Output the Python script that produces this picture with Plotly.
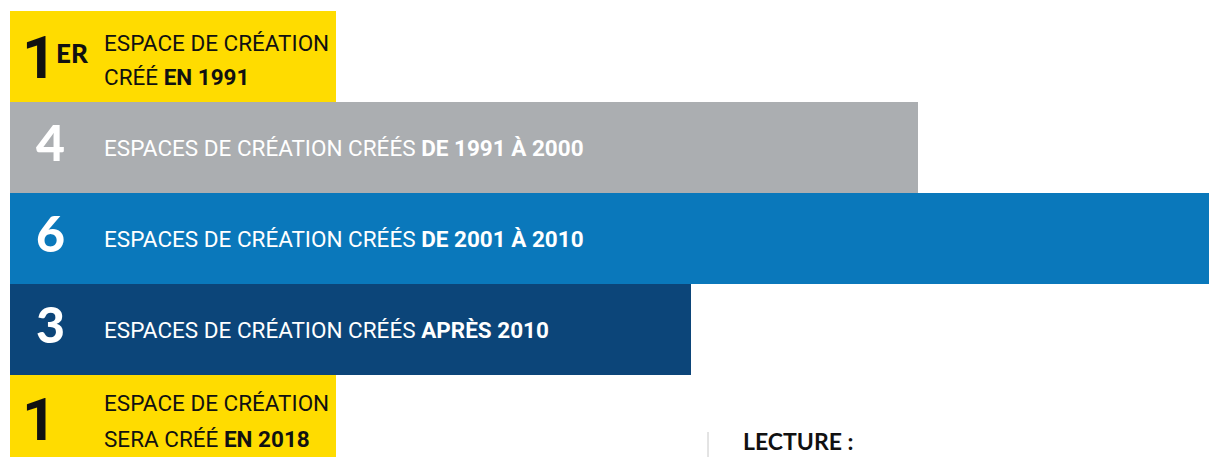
import plotly.graph_objects as go

# one row per period, top to bottom
counts = ["1", "4", "6", "3", "1"]
labels = [
    "ESPACE DE CRÉATION<br>CRÉÉ <b>EN 1991</b>",
    "ESPACES DE CRÉATION CRÉÉS <b>DE 1991 À 2000</b>",
    "ESPACES DE CRÉATION CRÉÉS <b>DE 2001 À 2010</b>",
    "ESPACES DE CRÉATION CRÉÉS <b>APRÈS 2010</b>",
    "ESPACE DE CRÉATION<br>SERA CRÉÉ <b>EN 2018</b>",
]
# bar lengths (pixel-ish units)
bar_lengths = [326, 908, 1199, 681, 326]
colors = ["#FFDC00", "#ABAEB1", "#0A78BB", "#0C4579", "#FFDC00"]
text_colors = ["#111111", "white", "white", "white", "#111111"]

rows = list(range(len(counts)))

label_font = "Roboto, Liberation Sans, sans-serif"
num_font = "Lato, Open Sans, sans-serif"

fig = go.Figure()
fig.add_trace(go.Bar(
    y=rows, x=bar_lengths, base=0, orientation="h",
    marker=dict(color=colors, line=dict(width=0)),
    hoverinfo="skip", showlegend=False,
))

# vertical offsets (px) for the two-line labels
two_line_shifts = {0: (14, -20), 4: (18, -18)}

annotations = []
for i in rows:
    col = text_colors[i]
    if i in (0, 4):
        # "1" without foot, as in the reference
        annotations.append(dict(x=29, y=i, xref="x", yref="y", text="<b>1</b>",
                                showarrow=False, xanchor="center", yanchor="middle",
                                yshift=-1 if i == 0 else 1,
                                font=dict(family="Roboto, sans-serif", size=60, color=col)))
        if i == 0:
            annotations.append(dict(x=44, y=i, xref="x", yref="y", text="ER",
                                    showarrow=False, xanchor="left", yanchor="middle", yshift=4,
                                    font=dict(family=num_font, size=26, weight=900, color=col)))
        for line, shift in zip(labels[i].split("<br>"), two_line_shifts[i]):
            annotations.append(dict(x=92, y=i, xref="x", yref="y", text=line,
                                    showarrow=False, xanchor="left", yanchor="middle",
                                    yshift=shift,
                                    font=dict(family=label_font, size=22.5, color=col)))
    else:
        annotations.append(dict(x=40.5, y=i, xref="x", yref="y", text=counts[i],
                                showarrow=False, xanchor="center", yanchor="middle", yshift=6,
                                font=dict(family=num_font, size=50, weight=900, color=col)))
        annotations.append(dict(x=92, y=i, xref="x", yref="y", text=labels[i],
                                showarrow=False, xanchor="left", yanchor="middle",
                                font=dict(family=label_font, size=22.5, color=col)))

annotations.append(dict(x=741 / 1209, y=1 - 441 / 457, xref="paper", yref="paper",
                        text="<b>LECTURE :</b>", showarrow=False,
                        xanchor="left", yanchor="middle",
                        font=dict(family=num_font, size=23, weight=900, color="#111111")))

fig.update_layout(
    width=1209, height=457,
    margin=dict(l=0, r=0, t=0, b=0),
    paper_bgcolor="white", plot_bgcolor="white",
    bargap=0,
    xaxis=dict(range=[-10, 1199], visible=False, fixedrange=True),
    yaxis=dict(range=[4.401, -0.621], visible=False, fixedrange=True),
    annotations=annotations,
    shapes=[dict(type="line", xref="paper", yref="paper",
                 x0=708 / 1209, x1=708 / 1209, y0=0, y1=1 - 432 / 457,
                 line=dict(color="#C8C8C8", width=1))],
)

# drop the default page margin so the figure sits at the top-left corner
fig.write_html("out.html", config={"displayModeBar": False},
               post_script="document.body.style.margin='0';")
